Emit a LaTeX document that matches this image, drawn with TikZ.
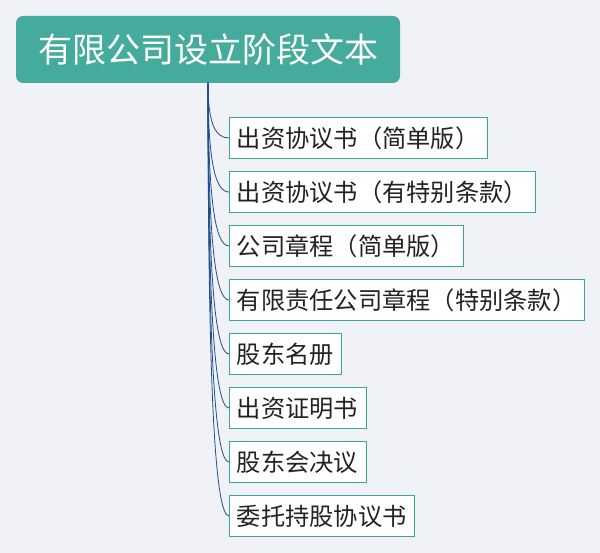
\documentclass[tikz,border=0pt]{standalone}
\usepackage{fontspec}
\setmainfont{Noto Sans CJK SC}
\definecolor{bgcol}{RGB}{240,242,248}
\definecolor{rootcol}{RGB}{69,171,156}
\definecolor{edgecol}{RGB}{58,165,150}
\definecolor{linkcol}{RGB}{30,78,140}
\definecolor{textcol}{RGB}{34,34,34}
\begin{document}
\begin{tikzpicture}[x=1pt,y=-1pt,
    root/.style = {rectangle,rounded corners=7pt,fill=rootcol,text=white,font=\fontsize{34}{40}\selectfont,
                   minimum height=67pt,inner xsep=22pt,outer sep=0pt},
    leaf/.style = {rectangle,draw=edgecol,line width=0.8pt,fill=white,text=textcol,font=\fontsize{24.25}{28}\selectfont,
                   minimum height=41pt,inner xsep=7.9pt,outer sep=0pt,anchor=west},
    link/.style = {draw=linkcol,line width=0.8pt}]
\fill[bgcol] (0,0) rectangle (600,553);
\useasboundingbox (0,0) rectangle (600,553);
\node[root] (root) at (208,49.5) {有限公司设立阶段文本};
    \foreach \t [count=\j from 0] in {出资协议书（简单版）,出资协议书（有特别条款）,公司章程（简单版）,有限责任公司章程（特别条款）,股东名册,出资证明书,股东会决议,委托持股协议书} \node[leaf] (c\j) at (229, 138+54*\j) {\t};
    \foreach \j [evaluate=\j as \d using 40+38*\j] in {0,...,7} \draw[link] (root.south) to[out=-90,in=180,out distance=\d pt,in distance=14pt] (c\j.west);
\end{tikzpicture}
\end{document}
